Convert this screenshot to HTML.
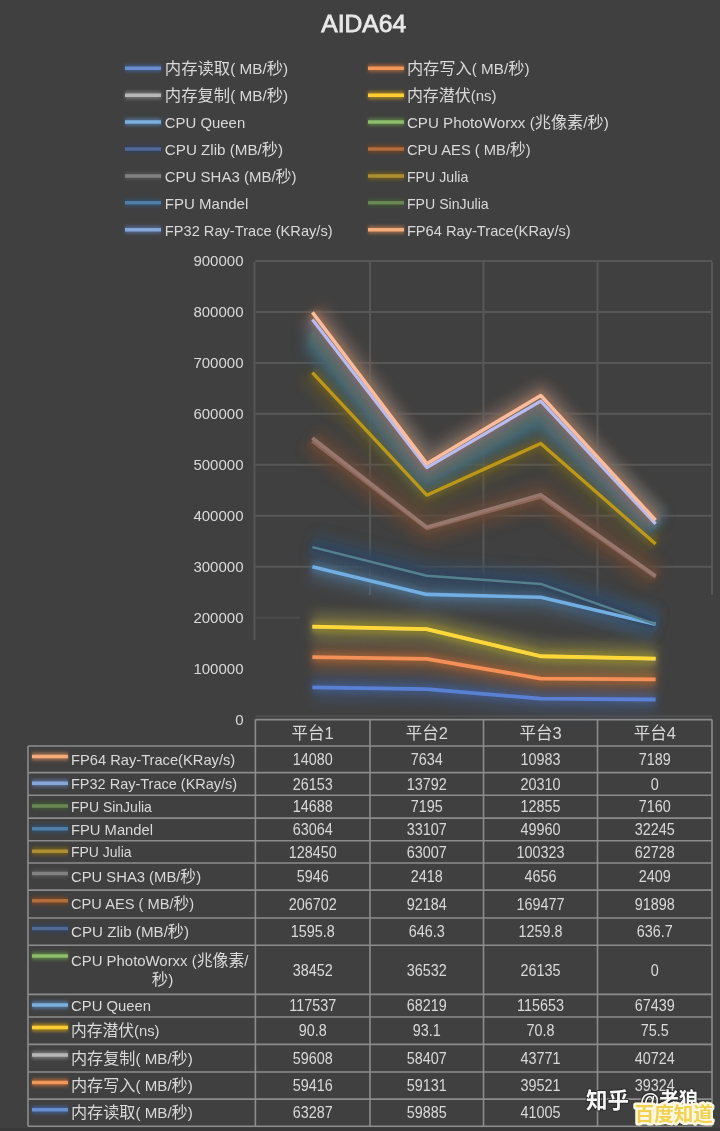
<!DOCTYPE html><html><head><meta charset="utf-8"><title>AIDA64</title><style>html,body{margin:0;padding:0;background:#404040;}svg{display:block;will-change:transform}text{font-family:'Liberation Sans', 'Noto Sans CJK SC', sans-serif;}</style></head><body>
<svg width="720" height="1131" viewBox="0 0 720 1131">
<defs>
<filter id="glow" filterUnits="userSpaceOnUse" x="0" y="0" width="720" height="1131"><feGaussianBlur stdDeviation="2.5"/></filter>
<filter id="glow2" filterUnits="userSpaceOnUse" x="0" y="0" width="720" height="1131"><feGaussianBlur stdDeviation="6"/></filter>
<filter id="glows" filterUnits="userSpaceOnUse" x="0" y="0" width="720" height="1131"><feGaussianBlur stdDeviation="1.5"/></filter>
</defs>
<rect width="720" height="1131" fill="#404040"/>
<text x="363.75" y="31.8" font-size="24" fill="#e8e8e8" stroke="#e8e8e8" stroke-width="0.8" text-anchor="middle" textLength="85" lengthAdjust="spacingAndGlyphs">AIDA64</text>
<line x1="125" y1="68.3" x2="161" y2="68.3" stroke="#4472C4" stroke-width="8" opacity="0.45" filter="url(#glows)"/>
<line x1="125" y1="68.3" x2="161" y2="68.3" stroke="#698ed0" stroke-width="3.5"/>
<text x="164.8" y="74.3" font-size="15" fill="#d9d9d9" textLength="123.4" lengthAdjust="spacingAndGlyphs"><tspan font-size="16">内存读取</tspan>( MB/<tspan font-size="16">秒</tspan>)</text>
<line x1="368" y1="68.3" x2="404" y2="68.3" stroke="#ED7D31" stroke-width="8" opacity="0.45" filter="url(#glows)"/>
<line x1="368" y1="68.3" x2="404" y2="68.3" stroke="#f1975a" stroke-width="3.5"/>
<text x="406.9" y="74.3" font-size="15" fill="#d9d9d9" textLength="122.6" lengthAdjust="spacingAndGlyphs"><tspan font-size="16">内存写入</tspan>( MB/<tspan font-size="16">秒</tspan>)</text>
<line x1="125" y1="95.2" x2="161" y2="95.2" stroke="#A5A5A5" stroke-width="8" opacity="0.45" filter="url(#glows)"/>
<line x1="125" y1="95.2" x2="161" y2="95.2" stroke="#b7b7b7" stroke-width="3.5"/>
<text x="164.8" y="101.2" font-size="15" fill="#d9d9d9" textLength="123.4" lengthAdjust="spacingAndGlyphs"><tspan font-size="16">内存复制</tspan>( MB/<tspan font-size="16">秒</tspan>)</text>
<line x1="368" y1="95.2" x2="404" y2="95.2" stroke="#FFC000" stroke-width="8" opacity="0.45" filter="url(#glows)"/>
<line x1="368" y1="95.2" x2="404" y2="95.2" stroke="#ffcd33" stroke-width="3.5"/>
<text x="406.9" y="101.2" font-size="15" fill="#d9d9d9" textLength="89.6" lengthAdjust="spacingAndGlyphs"><tspan font-size="16">内存潜伏</tspan>(ns)</text>
<line x1="125" y1="122.1" x2="161" y2="122.1" stroke="#5B9BD5" stroke-width="8" opacity="0.45" filter="url(#glows)"/>
<line x1="125" y1="122.1" x2="161" y2="122.1" stroke="#7cafdd" stroke-width="3.5"/>
<text x="164.8" y="128.1" font-size="15" fill="#d9d9d9" textLength="80.4" lengthAdjust="spacingAndGlyphs">CPU Queen</text>
<line x1="368" y1="122.1" x2="404" y2="122.1" stroke="#70AD47" stroke-width="8" opacity="0.45" filter="url(#glows)"/>
<line x1="368" y1="122.1" x2="404" y2="122.1" stroke="#8dbd6c" stroke-width="3.5"/>
<text x="406.9" y="128.1" font-size="15" fill="#d9d9d9" textLength="201.8" lengthAdjust="spacingAndGlyphs">CPU PhotoWorxx (<tspan font-size="16">兆像素</tspan>/<tspan font-size="16">秒</tspan>)</text>
<line x1="125" y1="149" x2="161" y2="149" stroke="#264478" stroke-width="8" opacity="0.45" filter="url(#glows)"/>
<line x1="125" y1="149" x2="161" y2="149" stroke="#516993" stroke-width="3.5"/>
<text x="164.8" y="155" font-size="15" fill="#d9d9d9" textLength="118.3" lengthAdjust="spacingAndGlyphs">CPU Zlib (MB/<tspan font-size="16">秒</tspan>)</text>
<line x1="368" y1="149" x2="404" y2="149" stroke="#9E480E" stroke-width="8" opacity="0.45" filter="url(#glows)"/>
<line x1="368" y1="149" x2="404" y2="149" stroke="#b16d3e" stroke-width="3.5"/>
<text x="406.9" y="155" font-size="15" fill="#d9d9d9" textLength="123.8" lengthAdjust="spacingAndGlyphs">CPU AES ( MB/<tspan font-size="16">秒</tspan>)</text>
<line x1="125" y1="175.9" x2="161" y2="175.9" stroke="#636363" stroke-width="8" opacity="0.45" filter="url(#glows)"/>
<line x1="125" y1="175.9" x2="161" y2="175.9" stroke="#828282" stroke-width="3.5"/>
<text x="164.8" y="181.9" font-size="15" fill="#d9d9d9" textLength="131.8" lengthAdjust="spacingAndGlyphs">CPU SHA3 (MB/<tspan font-size="16">秒</tspan>)</text>
<line x1="368" y1="175.9" x2="404" y2="175.9" stroke="#997300" stroke-width="8" opacity="0.45" filter="url(#glows)"/>
<line x1="368" y1="175.9" x2="404" y2="175.9" stroke="#ad8f33" stroke-width="3.5"/>
<text x="406.9" y="181.9" font-size="15" fill="#d9d9d9" textLength="61.5" lengthAdjust="spacingAndGlyphs">FPU Julia</text>
<line x1="125" y1="202.8" x2="161" y2="202.8" stroke="#255E91" stroke-width="8" opacity="0.45" filter="url(#glows)"/>
<line x1="125" y1="202.8" x2="161" y2="202.8" stroke="#517ea7" stroke-width="3.5"/>
<text x="164.8" y="208.8" font-size="15" fill="#d9d9d9" textLength="83.5" lengthAdjust="spacingAndGlyphs">FPU Mandel</text>
<line x1="368" y1="202.8" x2="404" y2="202.8" stroke="#43682B" stroke-width="8" opacity="0.45" filter="url(#glows)"/>
<line x1="368" y1="202.8" x2="404" y2="202.8" stroke="#698655" stroke-width="3.5"/>
<text x="406.9" y="208.8" font-size="15" fill="#d9d9d9" textLength="81.8" lengthAdjust="spacingAndGlyphs">FPU SinJulia</text>
<line x1="125" y1="229.7" x2="161" y2="229.7" stroke="#698ED0" stroke-width="8" opacity="0.45" filter="url(#glows)"/>
<line x1="125" y1="229.7" x2="161" y2="229.7" stroke="#87a5d9" stroke-width="3.5"/>
<text x="164.8" y="235.7" font-size="15" fill="#d9d9d9" textLength="167.8" lengthAdjust="spacingAndGlyphs">FP32 Ray-Trace (KRay/s)</text>
<line x1="368" y1="229.7" x2="404" y2="229.7" stroke="#F1975A" stroke-width="8" opacity="0.45" filter="url(#glows)"/>
<line x1="368" y1="229.7" x2="404" y2="229.7" stroke="#f4ac7b" stroke-width="3.5"/>
<text x="406.9" y="235.7" font-size="15" fill="#d9d9d9" textLength="163.8" lengthAdjust="spacingAndGlyphs">FP64 Ray-Trace(KRay/s)</text>
<line x1="255.4" y1="566.73" x2="712" y2="566.73" stroke="#575757" stroke-width="2"/>
<line x1="255.4" y1="515.78" x2="712" y2="515.78" stroke="#575757" stroke-width="2"/>
<line x1="255.4" y1="464.82" x2="712" y2="464.82" stroke="#575757" stroke-width="2"/>
<line x1="255.4" y1="413.87" x2="712" y2="413.87" stroke="#575757" stroke-width="2"/>
<line x1="255.4" y1="362.91" x2="712" y2="362.91" stroke="#575757" stroke-width="2"/>
<line x1="255.4" y1="311.96" x2="712" y2="311.96" stroke="#575757" stroke-width="2"/>
<line x1="255.4" y1="261.00" x2="712" y2="261.00" stroke="#575757" stroke-width="2"/>
<line x1="255.4" y1="617.69" x2="300" y2="617.69" stroke="#4b4b4b" stroke-width="2"/>
<line x1="255.4" y1="716.20" x2="712" y2="716.20" stroke="#4e4e4e" stroke-width="2"/>
<line x1="254.4" y1="262" x2="254.4" y2="640" stroke="#575757" stroke-width="2"/>
<line x1="370" y1="262" x2="370" y2="595" stroke="#575757" stroke-width="2"/>
<line x1="483.5" y1="262" x2="483.5" y2="595" stroke="#575757" stroke-width="2"/>
<line x1="597.5" y1="262" x2="597.5" y2="595" stroke="#575757" stroke-width="2"/>
<line x1="712" y1="262" x2="712" y2="595" stroke="#575757" stroke-width="2"/>
<text x="243.5" y="724.90" font-size="15" fill="#d9d9d9" text-anchor="end">0</text>
<text x="243.5" y="673.94" font-size="15" fill="#d9d9d9" text-anchor="end">100000</text>
<text x="243.5" y="622.99" font-size="15" fill="#d9d9d9" text-anchor="end">200000</text>
<text x="243.5" y="572.03" font-size="15" fill="#d9d9d9" text-anchor="end">300000</text>
<text x="243.5" y="521.08" font-size="15" fill="#d9d9d9" text-anchor="end">400000</text>
<text x="243.5" y="470.12" font-size="15" fill="#d9d9d9" text-anchor="end">500000</text>
<text x="243.5" y="419.17" font-size="15" fill="#d9d9d9" text-anchor="end">600000</text>
<text x="243.5" y="368.21" font-size="15" fill="#d9d9d9" text-anchor="end">700000</text>
<text x="243.5" y="317.26" font-size="15" fill="#d9d9d9" text-anchor="end">800000</text>
<text x="243.5" y="266.30" font-size="15" fill="#d9d9d9" text-anchor="end">900000</text>
<path d="M312.40 340.41 L426.75 478.26 L540.75 418.03 L655.60 527.53" fill="none" stroke="#3a7ab0" stroke-width="3.5" stroke-linejoin="round"/>
<path d="M312.40 332.93 L426.75 474.59 L540.75 411.48 L655.60 523.89" fill="none" stroke="#5a8a60" stroke-width="3.5" stroke-linejoin="round"/>
<path d="M312.40 687.35 L426.75 689.09 L540.75 698.71 L655.60 699.50" fill="none" stroke="#425c89" stroke-width="28" stroke-linejoin="round" opacity="0.42" filter="url(#glow2)"/>
<path d="M312.40 687.35 L426.75 689.09 L540.75 698.71 L655.60 699.50" fill="none" stroke="#425982" stroke-width="11" stroke-linejoin="round" opacity="0.84" filter="url(#glow)"/>
<path d="M312.40 657.08 L426.75 658.95 L540.75 678.57 L655.60 679.46" fill="none" stroke="#9f6238" stroke-width="28" stroke-linejoin="round" opacity="0.42" filter="url(#glow2)"/>
<path d="M312.40 657.08 L426.75 658.95 L540.75 678.57 L655.60 679.46" fill="none" stroke="#965e38" stroke-width="11" stroke-linejoin="round" opacity="0.84" filter="url(#glow)"/>
<path d="M312.40 626.70 L426.75 629.19 L540.75 656.26 L655.60 658.71" fill="none" stroke="#787878" stroke-width="28" stroke-linejoin="round" opacity="0.35" filter="url(#glow2)"/>
<path d="M312.40 626.70 L426.75 629.19 L540.75 656.26 L655.60 658.71" fill="none" stroke="#727272" stroke-width="11" stroke-linejoin="round" opacity="0.7" filter="url(#glow)"/>
<path d="M312.40 626.66 L426.75 629.15 L540.75 656.23 L655.60 658.67" fill="none" stroke="#94861d" stroke-width="28" stroke-linejoin="round" opacity="0.35" filter="url(#glow2)"/>
<path d="M312.40 626.66 L426.75 629.15 L540.75 656.23 L655.60 658.67" fill="none" stroke="#8c8020" stroke-width="11" stroke-linejoin="round" opacity="0.7" filter="url(#glow)"/>
<path d="M312.40 566.76 L426.75 594.38 L540.75 597.30 L655.60 624.31" fill="none" stroke="#4f7292" stroke-width="28" stroke-linejoin="round" opacity="0.42" filter="url(#glow2)"/>
<path d="M312.40 566.76 L426.75 594.38 L540.75 597.30 L655.60 624.31" fill="none" stroke="#4e6e8a" stroke-width="11" stroke-linejoin="round" opacity="0.84" filter="url(#glow)"/>
<path d="M312.40 547.17 L426.75 575.77 L540.75 583.98 L655.60 624.31" fill="none" stroke="#375a6b" stroke-width="28" stroke-linejoin="round" opacity="0.35" filter="url(#glow2)"/>
<path d="M312.40 547.17 L426.75 575.77 L540.75 583.98 L655.60 624.31" fill="none" stroke="#385868" stroke-width="11" stroke-linejoin="round" opacity="0.7" filter="url(#glow)"/>
<path d="M312.40 546.36 L426.75 575.44 L540.75 583.34 L655.60 623.98" fill="none" stroke="#32425f" stroke-width="28" stroke-linejoin="round" opacity="0.42" filter="url(#glow2)"/>
<path d="M312.40 546.36 L426.75 575.44 L540.75 583.34 L655.60 623.98" fill="none" stroke="#33425c" stroke-width="11" stroke-linejoin="round" opacity="0.84" filter="url(#glow)"/>
<path d="M312.40 441.03 L426.75 528.47 L540.75 496.98 L655.60 577.16" fill="none" stroke="#744424" stroke-width="28" stroke-linejoin="round" opacity="0.385" filter="url(#glow2)"/>
<path d="M312.40 441.03 L426.75 528.47 L540.75 496.98 L655.60 577.16" fill="none" stroke="#6f4427" stroke-width="11" stroke-linejoin="round" opacity="0.77" filter="url(#glow)"/>
<path d="M312.40 438.00 L426.75 527.23 L540.75 494.61 L655.60 575.93" fill="none" stroke="#604e46" stroke-width="28" stroke-linejoin="round" opacity="0.315" filter="url(#glow2)"/>
<path d="M312.40 438.00 L426.75 527.23 L540.75 494.61 L655.60 575.93" fill="none" stroke="#5d4d45" stroke-width="11" stroke-linejoin="round" opacity="0.63" filter="url(#glow)"/>
<path d="M312.40 372.55 L426.75 495.13 L540.75 443.49 L655.60 543.96" fill="none" stroke="#75601d" stroke-width="28" stroke-linejoin="round" opacity="0.35" filter="url(#glow2)"/>
<path d="M312.40 372.55 L426.75 495.13 L540.75 443.49 L655.60 543.96" fill="none" stroke="#705d20" stroke-width="11" stroke-linejoin="round" opacity="0.7" filter="url(#glow)"/>
<path d="M312.40 340.41 L426.75 478.26 L540.75 418.03 L655.60 527.53" fill="none" stroke="#3d6180" stroke-width="28" stroke-linejoin="round" opacity="0.525" filter="url(#glow2)"/>
<path d="M312.40 340.41 L426.75 478.26 L540.75 418.03 L655.60 527.53" fill="none" stroke="#3d5e7a" stroke-width="11" stroke-linejoin="round" opacity="1" filter="url(#glow)"/>
<path d="M312.40 332.93 L426.75 474.59 L540.75 411.48 L655.60 523.89" fill="none" stroke="#446c60" stroke-width="28" stroke-linejoin="round" opacity="0.525" filter="url(#glow2)"/>
<path d="M312.40 332.93 L426.75 474.59 L540.75 411.48 L655.60 523.89" fill="none" stroke="#44685d" stroke-width="11" stroke-linejoin="round" opacity="1" filter="url(#glow)"/>
<path d="M312.40 319.60 L426.75 467.57 L540.75 401.13 L655.60 523.89" fill="none" stroke="#576b8f" stroke-width="28" stroke-linejoin="round" opacity="0.42" filter="url(#glow2)"/>
<path d="M312.40 319.60 L426.75 467.57 L540.75 401.13 L655.60 523.89" fill="none" stroke="#546788" stroke-width="11" stroke-linejoin="round" opacity="0.84" filter="url(#glow)"/>
<path d="M312.40 312.43 L426.75 463.68 L540.75 395.53 L655.60 520.22" fill="none" stroke="#a1704e" stroke-width="28" stroke-linejoin="round" opacity="0.35" filter="url(#glow2)"/>
<path d="M312.40 312.43 L426.75 463.68 L540.75 395.53 L655.60 520.22" fill="none" stroke="#986c4d" stroke-width="11" stroke-linejoin="round" opacity="0.7" filter="url(#glow)"/>
<path d="M312.40 687.35 L426.75 689.09 L540.75 698.71 L655.60 699.50" fill="none" stroke="#5a80d4" stroke-width="3.8" stroke-linejoin="round"/>
<path d="M312.40 657.08 L426.75 658.95 L540.75 678.57 L655.60 679.46" fill="none" stroke="#f39058" stroke-width="3.8" stroke-linejoin="round"/>
<path d="M312.40 626.70 L426.75 629.19 L540.75 656.26 L655.60 658.71" fill="none" stroke="#b0b0b0" stroke-width="3.5" stroke-linejoin="round"/>
<path d="M312.40 626.66 L426.75 629.15 L540.75 656.23 L655.60 658.67" fill="none" stroke="#ffd838" stroke-width="3.8" stroke-linejoin="round"/>
<path d="M312.40 566.76 L426.75 594.38 L540.75 597.30 L655.60 624.31" fill="none" stroke="#72aee2" stroke-width="3.6" stroke-linejoin="round"/>
<path d="M312.40 547.17 L426.75 575.77 L540.75 583.98 L655.60 624.31" fill="none" stroke="#55808e" stroke-width="2.4" stroke-linejoin="round"/>
<path d="M312.40 441.03 L426.75 528.47 L540.75 496.98 L655.60 577.16" fill="none" stroke="#8f6658" stroke-width="3.5" stroke-linejoin="round"/>
<path d="M312.40 438.00 L426.75 527.23 L540.75 494.61 L655.60 575.93" fill="none" stroke="#96786e" stroke-width="3.5" stroke-linejoin="round"/>
<path d="M312.40 372.55 L426.75 495.13 L540.75 443.49 L655.60 543.96" fill="none" stroke="#bc9816" stroke-width="3.3" stroke-linejoin="round"/>
<path d="M312.40 319.60 L426.75 467.57 L540.75 401.13 L655.60 523.89" fill="none" stroke="#b8bcf0" stroke-width="3.2" stroke-linejoin="round"/>
<path d="M312.40 312.43 L426.75 463.68 L540.75 395.53 L655.60 520.22" fill="none" stroke="#f9bc9c" stroke-width="3.5" stroke-linejoin="round"/>
<g stroke="#8c8c8c" stroke-width="1.6" fill="none">
<line x1="255.4" y1="719.6" x2="712" y2="719.6"/>
<line x1="28" y1="746" x2="712" y2="746"/>
<line x1="28" y1="772.6" x2="712" y2="772.6"/>
<line x1="28" y1="795.3" x2="712" y2="795.3"/>
<line x1="28" y1="818.1" x2="712" y2="818.1"/>
<line x1="28" y1="840.7" x2="712" y2="840.7"/>
<line x1="28" y1="863" x2="712" y2="863"/>
<line x1="28" y1="890.1" x2="712" y2="890.1"/>
<line x1="28" y1="918" x2="712" y2="918"/>
<line x1="28" y1="945.3" x2="712" y2="945.3"/>
<line x1="28" y1="994.4" x2="712" y2="994.4"/>
<line x1="28" y1="1017" x2="712" y2="1017"/>
<line x1="28" y1="1044.4" x2="712" y2="1044.4"/>
<line x1="28" y1="1072" x2="712" y2="1072"/>
<line x1="28" y1="1099.1" x2="712" y2="1099.1"/>
<line x1="28" y1="1126.3" x2="712" y2="1126.3"/>
<line x1="255.4" y1="719.6" x2="255.4" y2="1126.3"/>
<line x1="370" y1="719.6" x2="370" y2="1126.3"/>
<line x1="483.5" y1="719.6" x2="483.5" y2="1126.3"/>
<line x1="597.5" y1="719.6" x2="597.5" y2="1126.3"/>
<line x1="712" y1="719.6" x2="712" y2="1126.3"/>
<line x1="28" y1="746" x2="28" y2="1126.3"/>
</g>
<text x="312.7" y="738.6" font-size="16.5" fill="#d9d9d9" text-anchor="middle">平台1</text>
<text x="426.75" y="738.6" font-size="16.5" fill="#d9d9d9" text-anchor="middle">平台2</text>
<text x="540.5" y="738.6" font-size="16.5" fill="#d9d9d9" text-anchor="middle">平台3</text>
<text x="654.75" y="738.6" font-size="16.5" fill="#d9d9d9" text-anchor="middle">平台4</text>
<line x1="32" y1="756.6" x2="68" y2="756.6" stroke="#F1975A" stroke-width="8" opacity="0.5" filter="url(#glows)"/>
<line x1="32" y1="756.6" x2="68" y2="756.6" stroke="#f4ac7b" stroke-width="3.5"/>
<text x="71.0" y="764.6" font-size="15" fill="#d9d9d9" textLength="164.2" lengthAdjust="spacingAndGlyphs">FP64 Ray-Trace(KRay/s)</text>
<text transform="translate(312.70 765.00) scale(0.9 1)" font-size="16" fill="#d9d9d9" text-anchor="middle">14080</text>
<text transform="translate(426.75 765.00) scale(0.9 1)" font-size="16" fill="#d9d9d9" text-anchor="middle">7634</text>
<text transform="translate(540.50 765.00) scale(0.9 1)" font-size="16" fill="#d9d9d9" text-anchor="middle">10983</text>
<text transform="translate(654.75 765.00) scale(0.9 1)" font-size="16" fill="#d9d9d9" text-anchor="middle">7189</text>
<line x1="32" y1="783.2" x2="68" y2="783.2" stroke="#698ED0" stroke-width="8" opacity="0.5" filter="url(#glows)"/>
<line x1="32" y1="783.2" x2="68" y2="783.2" stroke="#87a5d9" stroke-width="3.5"/>
<text x="71.0" y="789.25" font-size="15" fill="#d9d9d9" textLength="166.2" lengthAdjust="spacingAndGlyphs">FP32 Ray-Trace (KRay/s)</text>
<text transform="translate(312.70 789.65) scale(0.9 1)" font-size="16" fill="#d9d9d9" text-anchor="middle">26153</text>
<text transform="translate(426.75 789.65) scale(0.9 1)" font-size="16" fill="#d9d9d9" text-anchor="middle">13792</text>
<text transform="translate(540.50 789.65) scale(0.9 1)" font-size="16" fill="#d9d9d9" text-anchor="middle">20310</text>
<text transform="translate(654.75 789.65) scale(0.9 1)" font-size="16" fill="#d9d9d9" text-anchor="middle">0</text>
<line x1="32" y1="805.9" x2="68" y2="805.9" stroke="#43682B" stroke-width="8" opacity="0.5" filter="url(#glows)"/>
<line x1="32" y1="805.9" x2="68" y2="805.9" stroke="#698655" stroke-width="3.5"/>
<text x="71.0" y="812" font-size="15" fill="#d9d9d9" textLength="80.9" lengthAdjust="spacingAndGlyphs">FPU SinJulia</text>
<text transform="translate(312.70 812.40) scale(0.9 1)" font-size="16" fill="#d9d9d9" text-anchor="middle">14688</text>
<text transform="translate(426.75 812.40) scale(0.9 1)" font-size="16" fill="#d9d9d9" text-anchor="middle">7195</text>
<text transform="translate(540.50 812.40) scale(0.9 1)" font-size="16" fill="#d9d9d9" text-anchor="middle">12855</text>
<text transform="translate(654.75 812.40) scale(0.9 1)" font-size="16" fill="#d9d9d9" text-anchor="middle">7160</text>
<line x1="32" y1="828.7" x2="68" y2="828.7" stroke="#255E91" stroke-width="8" opacity="0.5" filter="url(#glows)"/>
<line x1="32" y1="828.7" x2="68" y2="828.7" stroke="#517ea7" stroke-width="3.5"/>
<text x="71.0" y="834.7" font-size="15" fill="#d9d9d9" textLength="82" lengthAdjust="spacingAndGlyphs">FPU Mandel</text>
<text transform="translate(312.70 835.10) scale(0.9 1)" font-size="16" fill="#d9d9d9" text-anchor="middle">63064</text>
<text transform="translate(426.75 835.10) scale(0.9 1)" font-size="16" fill="#d9d9d9" text-anchor="middle">33107</text>
<text transform="translate(540.50 835.10) scale(0.9 1)" font-size="16" fill="#d9d9d9" text-anchor="middle">49960</text>
<text transform="translate(654.75 835.10) scale(0.9 1)" font-size="16" fill="#d9d9d9" text-anchor="middle">32245</text>
<line x1="32" y1="851.3" x2="68" y2="851.3" stroke="#997300" stroke-width="8" opacity="0.5" filter="url(#glows)"/>
<line x1="32" y1="851.3" x2="68" y2="851.3" stroke="#ad8f33" stroke-width="3.5"/>
<text x="71.0" y="857.15" font-size="15" fill="#d9d9d9" textLength="60.6" lengthAdjust="spacingAndGlyphs">FPU Julia</text>
<text transform="translate(312.70 857.55) scale(0.9 1)" font-size="16" fill="#d9d9d9" text-anchor="middle">128450</text>
<text transform="translate(426.75 857.55) scale(0.9 1)" font-size="16" fill="#d9d9d9" text-anchor="middle">63007</text>
<text transform="translate(540.50 857.55) scale(0.9 1)" font-size="16" fill="#d9d9d9" text-anchor="middle">100323</text>
<text transform="translate(654.75 857.55) scale(0.9 1)" font-size="16" fill="#d9d9d9" text-anchor="middle">62728</text>
<line x1="32" y1="873.6" x2="68" y2="873.6" stroke="#636363" stroke-width="8" opacity="0.5" filter="url(#glows)"/>
<line x1="32" y1="873.6" x2="68" y2="873.6" stroke="#828282" stroke-width="3.5"/>
<text x="71.0" y="881.85" font-size="15" fill="#d9d9d9" textLength="130.1" lengthAdjust="spacingAndGlyphs">CPU SHA3 (MB/<tspan font-size="16">秒</tspan>)</text>
<text transform="translate(312.70 882.25) scale(0.9 1)" font-size="16" fill="#d9d9d9" text-anchor="middle">5946</text>
<text transform="translate(426.75 882.25) scale(0.9 1)" font-size="16" fill="#d9d9d9" text-anchor="middle">2418</text>
<text transform="translate(540.50 882.25) scale(0.9 1)" font-size="16" fill="#d9d9d9" text-anchor="middle">4656</text>
<text transform="translate(654.75 882.25) scale(0.9 1)" font-size="16" fill="#d9d9d9" text-anchor="middle">2409</text>
<line x1="32" y1="900.7" x2="68" y2="900.7" stroke="#9E480E" stroke-width="8" opacity="0.5" filter="url(#glows)"/>
<line x1="32" y1="900.7" x2="68" y2="900.7" stroke="#b16d3e" stroke-width="3.5"/>
<text x="71.0" y="909.35" font-size="15" fill="#d9d9d9" textLength="123.1" lengthAdjust="spacingAndGlyphs">CPU AES ( MB/<tspan font-size="16">秒</tspan>)</text>
<text transform="translate(312.70 909.75) scale(0.9 1)" font-size="16" fill="#d9d9d9" text-anchor="middle">206702</text>
<text transform="translate(426.75 909.75) scale(0.9 1)" font-size="16" fill="#d9d9d9" text-anchor="middle">92184</text>
<text transform="translate(540.50 909.75) scale(0.9 1)" font-size="16" fill="#d9d9d9" text-anchor="middle">169477</text>
<text transform="translate(654.75 909.75) scale(0.9 1)" font-size="16" fill="#d9d9d9" text-anchor="middle">91898</text>
<line x1="32" y1="928.6" x2="68" y2="928.6" stroke="#264478" stroke-width="8" opacity="0.5" filter="url(#glows)"/>
<line x1="32" y1="928.6" x2="68" y2="928.6" stroke="#516993" stroke-width="3.5"/>
<text x="71.0" y="936.95" font-size="15" fill="#d9d9d9" textLength="118.1" lengthAdjust="spacingAndGlyphs">CPU Zlib (MB/<tspan font-size="16">秒</tspan>)</text>
<text transform="translate(312.70 937.35) scale(0.9 1)" font-size="16" fill="#d9d9d9" text-anchor="middle">1595.8</text>
<text transform="translate(426.75 937.35) scale(0.9 1)" font-size="16" fill="#d9d9d9" text-anchor="middle">646.3</text>
<text transform="translate(540.50 937.35) scale(0.9 1)" font-size="16" fill="#d9d9d9" text-anchor="middle">1259.8</text>
<text transform="translate(654.75 937.35) scale(0.9 1)" font-size="16" fill="#d9d9d9" text-anchor="middle">636.7</text>
<line x1="32" y1="955.9" x2="68" y2="955.9" stroke="#70AD47" stroke-width="8" opacity="0.5" filter="url(#glows)"/>
<line x1="32" y1="955.9" x2="68" y2="955.9" stroke="#8dbd6c" stroke-width="3.5"/>
<text x="71.0" y="965.6" font-size="15" fill="#d9d9d9" textLength="177.5" lengthAdjust="spacingAndGlyphs">CPU PhotoWorxx (<tspan font-size="16">兆像素</tspan>/</text>
<text x="151.7" y="985" font-size="15" fill="#d9d9d9" textLength="21.6" lengthAdjust="spacingAndGlyphs"><tspan font-size="16">秒</tspan>)</text>
<text transform="translate(312.70 975.55) scale(0.9 1)" font-size="16" fill="#d9d9d9" text-anchor="middle">38452</text>
<text transform="translate(426.75 975.55) scale(0.9 1)" font-size="16" fill="#d9d9d9" text-anchor="middle">36532</text>
<text transform="translate(540.50 975.55) scale(0.9 1)" font-size="16" fill="#d9d9d9" text-anchor="middle">26135</text>
<text transform="translate(654.75 975.55) scale(0.9 1)" font-size="16" fill="#d9d9d9" text-anchor="middle">0</text>
<line x1="32" y1="1005" x2="68" y2="1005" stroke="#5B9BD5" stroke-width="8" opacity="0.5" filter="url(#glows)"/>
<line x1="32" y1="1005" x2="68" y2="1005" stroke="#7cafdd" stroke-width="3.5"/>
<text x="71.0" y="1011" font-size="15" fill="#d9d9d9" textLength="80.1" lengthAdjust="spacingAndGlyphs">CPU Queen</text>
<text transform="translate(312.70 1011.40) scale(0.9 1)" font-size="16" fill="#d9d9d9" text-anchor="middle">117537</text>
<text transform="translate(426.75 1011.40) scale(0.9 1)" font-size="16" fill="#d9d9d9" text-anchor="middle">68219</text>
<text transform="translate(540.50 1011.40) scale(0.9 1)" font-size="16" fill="#d9d9d9" text-anchor="middle">115653</text>
<text transform="translate(654.75 1011.40) scale(0.9 1)" font-size="16" fill="#d9d9d9" text-anchor="middle">67439</text>
<line x1="32" y1="1027.6" x2="68" y2="1027.6" stroke="#FFC000" stroke-width="8" opacity="0.5" filter="url(#glows)"/>
<line x1="32" y1="1027.6" x2="68" y2="1027.6" stroke="#ffcd33" stroke-width="3.5"/>
<text x="71.0" y="1036" font-size="15" fill="#d9d9d9" textLength="88.5" lengthAdjust="spacingAndGlyphs"><tspan font-size="16">内存潜伏</tspan>(ns)</text>
<text transform="translate(312.70 1036.40) scale(0.9 1)" font-size="16" fill="#d9d9d9" text-anchor="middle">90.8</text>
<text transform="translate(426.75 1036.40) scale(0.9 1)" font-size="16" fill="#d9d9d9" text-anchor="middle">93.1</text>
<text transform="translate(540.50 1036.40) scale(0.9 1)" font-size="16" fill="#d9d9d9" text-anchor="middle">70.8</text>
<text transform="translate(654.75 1036.40) scale(0.9 1)" font-size="16" fill="#d9d9d9" text-anchor="middle">75.5</text>
<line x1="32" y1="1055" x2="68" y2="1055" stroke="#A5A5A5" stroke-width="8" opacity="0.5" filter="url(#glows)"/>
<line x1="32" y1="1055" x2="68" y2="1055" stroke="#b7b7b7" stroke-width="3.5"/>
<text x="71.0" y="1063.5" font-size="15" fill="#d9d9d9" textLength="121.8" lengthAdjust="spacingAndGlyphs"><tspan font-size="16">内存复制</tspan>( MB/<tspan font-size="16">秒</tspan>)</text>
<text transform="translate(312.70 1063.90) scale(0.9 1)" font-size="16" fill="#d9d9d9" text-anchor="middle">59608</text>
<text transform="translate(426.75 1063.90) scale(0.9 1)" font-size="16" fill="#d9d9d9" text-anchor="middle">58407</text>
<text transform="translate(540.50 1063.90) scale(0.9 1)" font-size="16" fill="#d9d9d9" text-anchor="middle">43771</text>
<text transform="translate(654.75 1063.90) scale(0.9 1)" font-size="16" fill="#d9d9d9" text-anchor="middle">40724</text>
<line x1="32" y1="1082.6" x2="68" y2="1082.6" stroke="#ED7D31" stroke-width="8" opacity="0.5" filter="url(#glows)"/>
<line x1="32" y1="1082.6" x2="68" y2="1082.6" stroke="#f1975a" stroke-width="3.5"/>
<text x="71.0" y="1090.85" font-size="15" fill="#d9d9d9" textLength="121.8" lengthAdjust="spacingAndGlyphs"><tspan font-size="16">内存写入</tspan>( MB/<tspan font-size="16">秒</tspan>)</text>
<text transform="translate(312.70 1091.25) scale(0.9 1)" font-size="16" fill="#d9d9d9" text-anchor="middle">59416</text>
<text transform="translate(426.75 1091.25) scale(0.9 1)" font-size="16" fill="#d9d9d9" text-anchor="middle">59131</text>
<text transform="translate(540.50 1091.25) scale(0.9 1)" font-size="16" fill="#d9d9d9" text-anchor="middle">39521</text>
<text transform="translate(654.75 1091.25) scale(0.9 1)" font-size="16" fill="#d9d9d9" text-anchor="middle">39324</text>
<line x1="32" y1="1109.7" x2="68" y2="1109.7" stroke="#4472C4" stroke-width="8" opacity="0.5" filter="url(#glows)"/>
<line x1="32" y1="1109.7" x2="68" y2="1109.7" stroke="#698ed0" stroke-width="3.5"/>
<text x="71.0" y="1118" font-size="15" fill="#d9d9d9" textLength="121.8" lengthAdjust="spacingAndGlyphs"><tspan font-size="16">内存读取</tspan>( MB/<tspan font-size="16">秒</tspan>)</text>
<text transform="translate(312.70 1118.40) scale(0.9 1)" font-size="16" fill="#d9d9d9" text-anchor="middle">63287</text>
<text transform="translate(426.75 1118.40) scale(0.9 1)" font-size="16" fill="#d9d9d9" text-anchor="middle">59885</text>
<text transform="translate(540.50 1118.40) scale(0.9 1)" font-size="16" fill="#d9d9d9" text-anchor="middle">41005</text>
<rect x="0" y="1128" width="720" height="3" fill="#393939"/>
<g font-size="22" font-weight="bold" fill="#f6f6f6" stroke="#262626" stroke-width="2" stroke-opacity="0.8" paint-order="stroke" stroke-linejoin="round">
<text x="586" y="1108" textLength="43" lengthAdjust="spacingAndGlyphs">知乎</text>
<text x="640" y="1108" textLength="58.5" lengthAdjust="spacingAndGlyphs">@老狼</text>
</g>
<text x="673.8" y="1120.5" font-size="19" font-weight="bold" fill="#f2d050" stroke="#fff8e0" stroke-width="5" paint-order="stroke" stroke-linejoin="round" text-anchor="middle" textLength="78" lengthAdjust="spacingAndGlyphs">百度知道</text>
</svg></body></html>
